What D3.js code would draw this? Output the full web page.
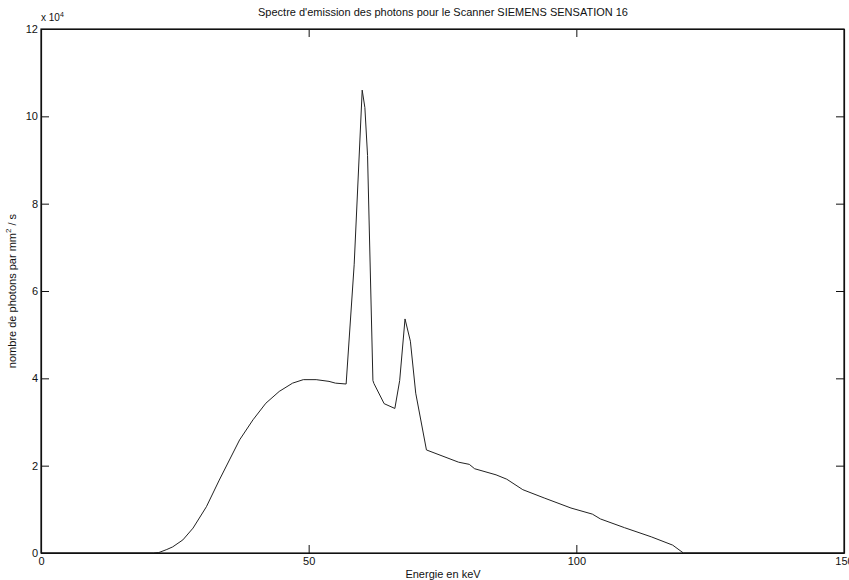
<!DOCTYPE html>
<html>
<head>
<meta charset="utf-8">
<script src="https://cdn.jsdelivr.net/npm/d3@7"></script>
<style>
  body { margin: 0; background: #fff; }
  text { font-family: "Liberation Sans", Arial, sans-serif; fill: #111; }
</style>
</head>
<body>
<svg id="chart" width="849" height="580"></svg>
<script>
// spectrum (energy in keV, photons in units of 1e4)
var energy = [0, 21, 22, 23.5, 24.6, 26.5, 28.4, 30.9, 33.3, 35.2, 37.1, 39.6, 42, 44.5, 47, 49,
    51.4, 53.8, 55, 57, 58.5, 60, 60.5, 61, 62, 62.2, 64.1, 66.1, 67, 68, 69, 70, 72, 78, 80, 81,
    85, 87, 90, 94, 99, 103, 104.5, 109, 114, 118, 120, 150];
var photons = [0, 0, 0.01, 0.08, 0.14, 0.30, 0.57, 1.06, 1.67, 2.13, 2.59, 3.05, 3.43, 3.70, 3.89, 3.97,
    3.97, 3.93, 3.89, 3.87, 6.6, 10.6, 10.2, 9.1, 3.95, 3.88, 3.42, 3.31, 3.95, 5.36, 4.85, 3.66, 2.36, 2.08, 2.03, 1.93,
    1.79, 1.69, 1.45, 1.26, 1.03, 0.89, 0.78, 0.58, 0.37, 0.18, 0, 0];
var xTicks = [0, 50, 100, 150];
var yTicks = [0, 2, 4, 6, 8, 10, 12];

var title = "Spectre d'emission des photons pour le Scanner SIEMENS SENSATION 16";
var xLabel = "Energie en keV";

(function () {
    var svg = d3.select('#chart');
    var pLeft = 41, pRight = 844, pTop = 29, pBottom = 553;
    var tickLen = 8;

    var x = d3.scaleLinear().domain([0, 150]).range([pLeft, pRight]);
    var y = d3.scaleLinear().domain([0, 12]).range([pBottom, pTop]);

    var data = energy.map(function (e, i) { return {x: e, y: photons[i]}; });

    var line = d3.line()
        .x(function (d) { return x(d.x); })
        .y(function (d) { return y(d.y); });

    svg.append('path')
        .datum(data)
        .attr('d', line)
        .attr('fill', 'none')
        .attr('stroke', '#222')
        .attr('stroke-width', 1);

    // axes, matlab style: ticks inward on all four sides
    var xb = svg.append('g').attr('transform', 'translate(0,' + pBottom + ')')
        .call(d3.axisBottom(x).tickValues(xTicks).tickSizeInner(-tickLen).tickSizeOuter(0).tickPadding(4));
    var xt = svg.append('g').attr('transform', 'translate(0,' + pTop + ')')
        .call(d3.axisTop(x).tickValues(xTicks).tickSizeInner(-tickLen).tickSizeOuter(0).tickFormat(''));
    var yl = svg.append('g').attr('transform', 'translate(' + pLeft + ',0)')
        .call(d3.axisLeft(y).tickValues(yTicks).tickSizeInner(-tickLen).tickSizeOuter(0).tickPadding(3));
    var yr = svg.append('g').attr('transform', 'translate(' + pRight + ',0)')
        .call(d3.axisRight(y).tickValues(yTicks).tickSizeInner(-tickLen).tickSizeOuter(0).tickFormat(''));

    [xb, xt, yl, yr].forEach(function (g) {
        g.select('.domain').attr('stroke', '#111').attr('stroke-width', 1.2);
        g.selectAll('.tick line').attr('stroke', '#111');
        g.selectAll('.tick text').style('font-size', '11px')
            .style('font-family', '"Liberation Sans", Arial, sans-serif').attr('fill', '#111');
    });

    // frame
    svg.append('rect')
        .attr('x', pLeft).attr('y', pTop)
        .attr('width', pRight - pLeft).attr('height', pBottom - pTop)
        .attr('fill', 'none').attr('stroke', '#111').attr('stroke-width', 1.2);

    // exponent label
    var expo = svg.append('text').attr('x', pLeft).attr('y', 21).style('font-size', '10px');
    expo.append('tspan').text('x 10');
    expo.append('tspan').attr('dy', -4).style('font-size', '7px').text('4');

    svg.append('text')
        .attr('x', 443).attr('y', 16)
        .attr('text-anchor', 'middle')
        .style('font-size', '11px')
        .text(title);

    svg.append('text')
        .attr('x', 443).attr('y', 578)
        .attr('text-anchor', 'middle')
        .style('font-size', '11px')
        .text(xLabel);

    var yt = svg.append('text')
        .attr('transform', 'translate(16,' + ((pTop + pBottom) / 2) + ') rotate(-90)')
        .attr('text-anchor', 'middle')
        .style('font-size', '11px');
    yt.append('tspan').text('nombre de photons par mm');
    yt.append('tspan').attr('dy', -5).style('font-size', '8px').text('2');
    yt.append('tspan').attr('dy', 5).text(' / s');
})();
</script>
</body>
</html>
